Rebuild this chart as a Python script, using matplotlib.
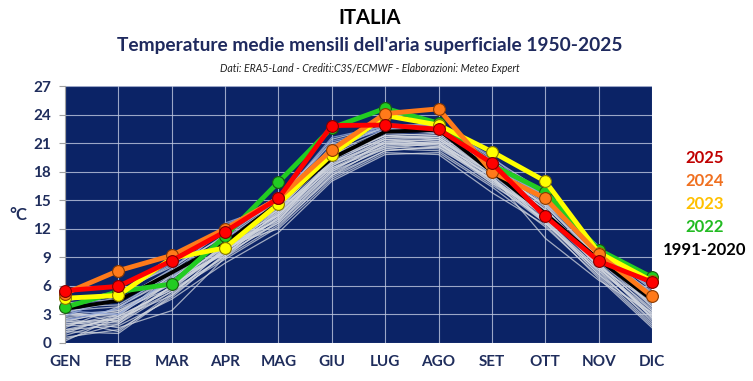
import matplotlib
matplotlib.use("Agg")
import matplotlib.pyplot as plt
import numpy as np

plt.rcParams['font.family'] = ['Lato', 'DejaVu Sans']

months = ["GEN", "FEB", "MAR", "APR", "MAG", "GIU", "LUG", "AGO", "SET", "OTT", "NOV", "DIC"]
y_ticks = [0, 3, 6, 9, 12, 15, 18, 21, 24, 27]

t2025 = [5.5, 5.95, 8.65, 11.7, 15.2, 22.85, 22.9, 22.45, 18.9, 13.3, 8.6, 6.4]
t2024 = [5.2, 7.6, 9.2, 12.0, 15.2, 20.3, 24.1, 24.6, 18.0, 15.2, 9.3, 4.9]
t2023 = [4.7, 5.0, 8.9, 10.0, 14.6, 19.8, 23.9, 22.9, 20.1, 17.0, 9.5, 6.5]
t2022 = [3.75, 5.4, 6.2, 11.2, 16.9, 22.6, 24.65, 23.1, 18.7, 15.9, 9.8, 6.9]
clim = [3.6, 4.45, 7.4, 10.5, 14.7, 19.4, 22.2, 22.4, 18.0, 13.6, 8.75, 4.55]

# historical years (1950-2021), estimated from the spaghetti band
hist = [
    [2.0, 2.6, 5.8, 9.6, 13.6, 18.4, 21.0, 21.0, 17.6, 13.4, 8.2, 3.6],
    [1.2, 1.0, 5.0, 9.2, 12.8, 17.8, 20.6, 20.4, 17.2, 13.0, 7.8, 3.0],
    [3.0, 3.4, 6.4, 10.2, 14.0, 19.0, 21.6, 21.6, 18.2, 14.0, 8.6, 4.4],
    [0.4, 2.0, 6.0, 9.8, 13.0, 18.0, 21.2, 21.4, 17.8, 13.6, 8.0, 2.6],
    [2.6, 1.6, 3.4, 9.0, 12.4, 17.4, 20.2, 20.6, 16.8, 12.6, 7.6, 2.2],
    [1.8, 3.0, 6.8, 10.6, 14.4, 19.6, 22.0, 21.8, 18.4, 14.4, 9.0, 4.8],
    [3.8, 4.0, 7.2, 11.0, 14.8, 20.0, 22.4, 22.2, 18.8, 14.8, 9.4, 5.0],
    [0.8, 2.4, 5.4, 8.8, 12.2, 17.6, 20.8, 20.8, 17.0, 12.8, 7.2, 2.8],
    [2.2, 3.6, 6.2, 9.4, 13.4, 18.8, 21.4, 21.2, 17.4, 13.2, 8.4, 3.4],
    [1.4, 1.8, 4.6, 8.4, 11.6, 17.0, 19.8, 20.0, 16.4, 12.2, 7.0, 1.8],
    [4.2, 4.6, 7.6, 11.4, 15.2, 20.6, 22.6, 22.8, 19.2, 15.2, 9.8, 5.6],
    [2.8, 3.2, 6.6, 10.0, 13.8, 19.2, 21.8, 21.6, 18.0, 13.8, 8.8, 4.0],
    [0.2, 2.8, 5.6, 9.0, 13.2, 18.2, 21.0, 20.6, 17.6, 11.0, 6.6, 3.2],
    [3.4, 2.2, 6.0, 10.4, 14.2, 19.4, 21.8, 22.0, 18.6, 14.2, 8.0, 4.2],
    [1.6, 3.8, 7.0, 10.8, 14.0, 18.6, 21.2, 21.0, 17.2, 13.6, 9.2, 3.8],
    [2.4, 1.2, 5.2, 9.8, 12.6, 18.0, 20.4, 20.2, 16.6, 13.0, 7.4, 2.4],
    [3.2, 4.4, 7.8, 11.8, 14.6, 20.2, 22.8, 22.6, 19.0, 15.4, 9.6, 5.2],
    [1.0, 3.0, 6.4, 9.6, 13.6, 19.0, 21.6, 21.8, 18.2, 14.0, 8.6, 4.6],
    [2.6, 3.4, 5.8, 10.2, 12.0, 17.2, 20.0, 19.8, 15.8, 12.4, 6.8, 1.6],
    [3.6, 5.2, 8.2, 12.2, 15.4, 21.0, 22.6, 22.0, 18.6, 14.6, 9.8, 5.8],
    [2.0, 2.2, 6.6, 9.4, 13.2, 18.6, 21.4, 21.6, 17.8, 13.8, 8.2, 3.0],
    [1.4, 2.6, 5.0, 10.0, 13.0, 18.2, 20.8, 21.2, 17.4, 12.8, 7.8, 3.4],
    [4.4, 5.4, 8.0, 11.2, 15.0, 21.4, 22.8, 23.0, 19.4, 15.8, 9.2, 5.4],
    [3.0, 2.8, 7.2, 10.6, 14.8, 19.8, 22.2, 22.4, 18.4, 14.4, 8.8, 4.2],
    [1.8, 2.0, 5.4, 9.2, 13.8, 18.8, 20.6, 21.0, 17.0, 13.4, 8.0, 2.8],
    [2.4, 3.2, 6.2, 10.4, 12.8, 19.4, 21.4, 20.8, 18.0, 13.2, 8.6, 3.8],
    [0.6, 1.4, 4.8, 9.4, 12.6, 17.6, 20.2, 20.6, 17.2, 12.6, 7.2, 2.0],
    [3.4, 3.8, 6.8, 10.8, 13.4, 19.0, 21.0, 21.4, 17.6, 14.6, 9.0, 4.6],
    [2.2, 2.4, 6.0, 9.6, 14.0, 19.8, 21.8, 21.4, 18.0, 12.6, 7.6, 3.2],
    [1.2, 2.8, 5.6, 10.0, 13.4, 18.4, 20.4, 21.0, 16.8, 13.8, 8.4, 2.6],
]
hist_blue = [
    [2.4, 3.6, 7.8, 12.4, 15.0, 21.6, 22.8, 22.6, 19.0, 15.0, 9.6, 5.2],
    [3.8, 4.6, 7.4, 11.0, 14.2, 20.8, 22.4, 23.2, 18.4, 15.6, 10.0, 4.6],
    [2.8, 5.0, 8.4, 11.6, 15.4, 20.4, 23.0, 22.8, 19.6, 14.8, 9.4, 5.8],
    [3.4, 3.0, 6.8, 12.6, 14.6, 21.2, 22.6, 22.2, 18.8, 15.2, 10.2, 5.0],
]

legend_labels = ["2025", "2024", "2023", "2022", "1991-2020"]
legend_colors = ["#c00000", "#f07020", "#ffc000", "#22bb22", "#000000"]

fig = plt.figure(figsize=(7.53, 3.81), dpi=100)
ax = fig.add_axes([65/753, 1-343/381, (652-65)/753, (343-86)/381])
ax.set_facecolor("#0b2366")

x = np.arange(len(months))
for row in hist:
    ax.plot(x, row, color="#d4d8e0", lw=0.9, alpha=0.75, zorder=2)
for row in hist_blue:
    ax.plot(x, row, color="#8ea4d8", lw=0.9, alpha=0.8, zorder=2)

ax.plot(x, clim, color="black", lw=2.8, zorder=3)
mk = dict(marker="o", markersize=8.5, markeredgewidth=0.8, clip_on=False)
ax.plot(x, t2022, color="#22cc22", lw=3.5, markerfacecolor="#22cc22", markeredgecolor="#1a5a10", zorder=4, **mk)
ax.plot(x, t2023, color="#ffff00", lw=3.5, markerfacecolor="#ffff00", markeredgecolor="#8a7a00", zorder=5, **mk)
ax.plot(x, t2024, color="#ff7a1a", lw=3.5, markerfacecolor="#ff7a1a", markeredgecolor="#8a3a00", zorder=6, **mk)
ax.plot(x, t2025, color="#ff0000", lw=3.5, markerfacecolor="#ff0000", markeredgecolor="#800000", zorder=7, **mk)

ax.set_xlim(0, len(months)-1)
ax.set_ylim(0, 27)
ax.set_xticks(x)
ax.set_xticklabels(months)
ax.set_yticks(y_ticks)
ax.grid(True, color="#c0c8e0", lw=0.8, alpha=0.8, zorder=1)
ax.set_axisbelow(True)
for s in ["top", "right", "bottom"]:
    ax.spines[s].set_visible(False)
ax.spines["left"].set_color("#a0a0a0")
ax.tick_params(axis="y", length=4, color="#a0a0a0", labelsize=11, labelcolor="#1f2d5c", pad=6)
ax.tick_params(axis="x", length=0, labelsize=11, labelcolor="#1f2d5c", pad=9)
for lbl in ax.get_xticklabels() + ax.get_yticklabels():
    lbl.set_fontweight("bold")

fig.text(18/753, 1-215/381, "°C", fontsize=12, fontweight="bold", color="#1f2d5c", ha="center", va="center")

fig.text(370/753, 1-18/381, "ITALIA", fontsize=14.5, fontweight="bold", color="black", ha="center", va="center")
fig.text(370/753, 1-45/381, "Temperature medie mensili dell'aria superficiale 1950-2025", fontsize=13.8,
         fontweight="bold", color="#1f2a5e", ha="center", va="center")
fig.text(370/753, 1-68/381, "Dati: ERA5-Land - Crediti:C3S/ECMWF - Elaborazioni: Meteo Expert", fontsize=7.6,
         style="italic", color="#222222", ha="center", va="center")

for i, (lab, col) in enumerate(zip(legend_labels, legend_colors)):
    fig.text(705/753, 1-(158+23*i)/381, lab, fontsize=12, fontweight="bold", color=col, ha="center", va="center")

fig.savefig("out.png", dpi=100)
